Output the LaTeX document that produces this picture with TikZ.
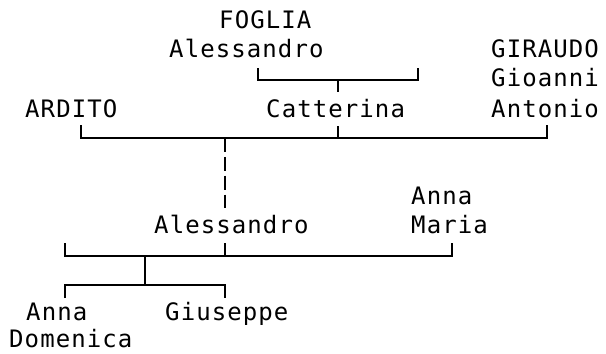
\documentclass[tikz,border=0pt]{standalone}
\usepackage{fontspec}
\setmonofont[LetterSpace=4.5]{DejaVu Sans Mono}
\usetikzlibrary{positioning,calc}
\tikzset{
  person/.style={font=\ttfamily\fontsize{20.5}{24}\selectfont,anchor=base west,inner sep=0pt},
  link/.style={line width=1.55pt},
  % the uncertain descent is drawn broken
  dlink/.style={link,dash pattern=on 11.8pt off 4.3pt},
}
\begin{document}
\begin{tikzpicture}[x=0.3mm,y=-0.3mm]
  \useasboundingbox (0,0) rectangle (606,353);
  % first generation
  \node[person] (fogliaS) at (219,28) {FOGLIA};
  \node[person] (fogliaN) at (169,57) {Alessandro};
  \node[person] (giraudoS) at (491,57) {GIRAUDO};
  \node[person] (giraudoN) at (491,86) {Gioanni};
  \node[person] (giraudoM) at (491,117) {Antonio};
  \node[person] (ardito) at (25,117) {ARDITO};
  \node[person] (catterina) at (266,117) {Catterina};
  % second generation
  \node[person] (alessandro) at (154,233) {Alessandro};
  \node[person] (annamariaA) at (411,204) {Anna};
  \node[person] (annamariaB) at (411,233) {Maria};
  % children
  \node[person] (annadomA) at (26,320) {Anna};
  \node[person] (annadomB) at (9,347) {Domenica};
  \node[person] (giuseppe) at (165,320) {Giuseppe};
  % junction points
  \coordinate (u1) at (258,68);  \coordinate (u2) at (418,68);  \coordinate (j1) at (338,80);
  \coordinate (c1) at (338,92);  \coordinate (c2) at (338,126);
  \coordinate (a1) at (81,125);  \coordinate (g1) at (547,125); \coordinate (j2) at (225,138);
  \coordinate (d1) at (225,208);
  \coordinate (s1) at (65,243);  \coordinate (s2) at (452,243); \coordinate (s3) at (225,243);
  \coordinate (j3) at (145,256); \coordinate (j4) at (145,285);
  \coordinate (k1) at (65,298);  \coordinate (k2) at (225,298);
  % the marriages and their children
  \draw[link] (u1) |- (j1) -| (u2);
  \draw[link] (j1) -- (c1);
  \draw[link] (a1) |- (j2) -| (g1);
  \draw[link] (c2) -- (c2 |- j2);
  \draw[dlink] (j2) -- (d1);
  \draw[link] (s1) |- (j3) -| (s2);
  \draw[link] (s3) -- (s3 |- j3);
  \draw[link] (j3) -- (j4);
  \draw[link] (k1) |- (j4) -| (k2);
\end{tikzpicture}
\end{document}
